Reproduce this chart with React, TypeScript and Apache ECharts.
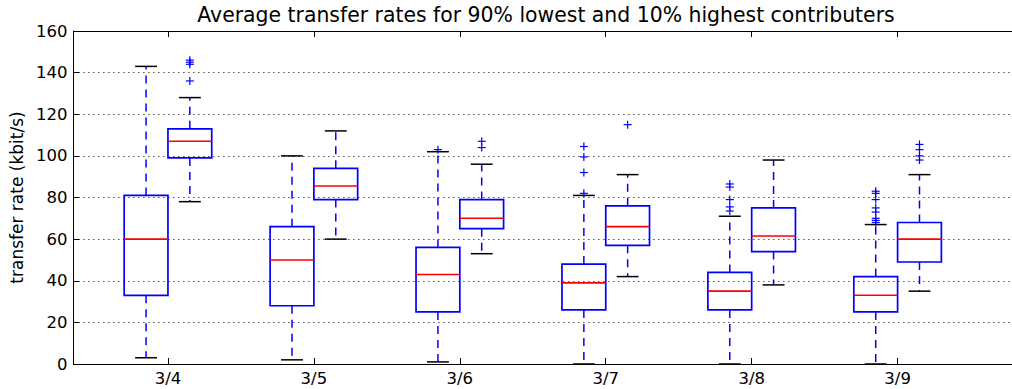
import React, { useEffect, useRef } from "react";
import * as echarts from "echarts";

const categories = ["3/4", "3/5", "3/6", "3/7", "3/8", "3/9"];
const yTicks = [0, 20, 40, 60, 80, 100, 120, 140, 160];
// [lower cap, q1, median, q3, upper cap]
const low90 = [
  [3, 33, 60, 81, 143],
  [2, 28, 50, 66, 100],
  [1, 25, 43, 56, 102],
  [0, 26, 39, 48, 81],
  [0, 26, 35, 44, 71],
  [0, 25, 33, 42, 67],
];
const high10 = [
  [78, 99, 107, 113, 128],
  [60, 79, 85.5, 94, 112],
  [53, 65, 70, 79, 96],
  [42, 57, 66, 76, 91],
  [38, 54, 61.5, 75, 98],
  [35, 49, 60, 68, 91],
];
const low90Outliers = [
  [],
  [],
  [103],
  [82, 92, 99.5, 104.5],
  [73.5, 75.5, 79, 85, 86.5],
  [68, 69, 70, 73, 75, 79, 82, 83],
];
const high10Outliers = [
  [136, 144, 145, 146],
  [],
  [104, 107],
  [115],
  [],
  [98, 100, 103, 105.5],
];

const OFFSET = 0.15;
const BOX_W = 0.3;
const FONT = "DejaVu Sans";

export default function App() {
  const ref = useRef<HTMLDivElement>(null);
  useEffect(() => {
    if (!ref.current) return;
    const chart = echarts.init(ref.current, null, { renderer: "svg" });

    const boxData: number[][] = [];
    categories.forEach((_, i) => {
      boxData.push([i - OFFSET, ...low90[i]]);
      boxData.push([i + OFFSET, ...high10[i]]);
    });
    const outData: number[][] = [];
    categories.forEach((_, i) => {
      low90Outliers[i].forEach((v) => outData.push([i - OFFSET, v]));
      high10Outliers[i].forEach((v) => outData.push([i + OFFSET, v]));
    });
    const tickIdx = categories.map((_, i) => i);

    const option: any = {
      animation: false,
      graphic: [
        {
          type: "text",
          x: 546,
          y: 15,
          style: {
            text: "Average transfer rates for 90% lowest and 10% highest contributers",
            fontFamily: FONT,
            fontSize: 20.4,
            fill: "#000",
            textAlign: "center",
            textVerticalAlign: "middle",
          },
        },
      ],
      grid: { left: 69, top: 31, bottom: 25, right: 0, containLabel: false },
      xAxis: [
        {
          type: "value",
          min: -0.648,
          max: 5.873,
          axisLine: { show: true, onZero: false, lineStyle: { color: "#000", width: 1 } },
          axisTick: {
            show: true,
            inside: true,
            length: 6,
            customValues: tickIdx,
            lineStyle: { color: "#000" },
          },
          axisLabel: {
            show: true,
            customValues: tickIdx,
            formatter: (v: number) => categories[Math.round(v)] ?? "",
            fontFamily: FONT,
            fontSize: 16.5,
            color: "#000",
            margin: 6,
          },
          splitLine: { show: false },
        },
        {
          type: "value",
          position: "top",
          min: -0.648,
          max: 5.873,
          axisLine: { show: true, onZero: false, lineStyle: { color: "#000", width: 1 } },
          axisTick: {
            show: true,
            inside: true,
            length: 6,
            customValues: tickIdx,
            lineStyle: { color: "#000" },
          },
          axisLabel: { show: false },
          splitLine: { show: false },
        },
      ],
      yAxis: {
        type: "value",
        min: 0,
        max: 160,
        interval: 20,
        name: "transfer rate (kbit/s)",
        nameLocation: "middle",
        nameGap: 43,
        nameTextStyle: { fontFamily: FONT, fontSize: 17, color: "#000" },
        axisLine: { show: true, onZero: false, lineStyle: { color: "#000", width: 1 } },
        axisTick: { show: true, inside: true, length: 6, lineStyle: { color: "#000" } },
        axisLabel: {
          fontFamily: FONT,
          fontSize: 16.5,
          color: "#000",
          margin: 6,
          formatter: (v: number) => (yTicks.includes(v) ? String(v) : ""),
        },
        splitLine: { show: true, lineStyle: { color: "#000", type: [1, 4], width: 1 } },
      },
      series: [
        {
          type: "custom",
          xAxisIndex: 0,
          yAxisIndex: 0,
          data: boxData,
          clip: false,
          renderItem: (params: any, api: any) => {
            const x = api.value(0);
            const lo = api.value(1);
            const q1 = api.value(2);
            const med = api.value(3);
            const q3 = api.value(4);
            const hi = api.value(5);
            const half = api.size([BOX_W, 0])[0] / 2;
            const capHalf = half / 2;
            const pLo = api.coord([x, lo]);
            const pQ1 = api.coord([x, q1]);
            const pMed = api.coord([x, med]);
            const pQ3 = api.coord([x, q3]);
            const pHi = api.coord([x, hi]);
            const cx = pQ1[0];
            const blue = "#0000ff";
            return {
              type: "group",
              children: [
                {
                  type: "line",
                  shape: { x1: cx, y1: pQ3[1], x2: cx, y2: pHi[1] },
                  style: { stroke: blue, lineWidth: 1.5, lineDash: [8, 6] },
                },
                {
                  type: "line",
                  shape: { x1: cx, y1: pQ1[1], x2: cx, y2: pLo[1] },
                  style: { stroke: blue, lineWidth: 1.5, lineDash: [8, 6] },
                },
                {
                  type: "line",
                  shape: { x1: cx - capHalf, y1: pHi[1], x2: cx + capHalf, y2: pHi[1] },
                  style: { stroke: "#000", lineWidth: 1.5 },
                },
                {
                  type: "line",
                  shape: { x1: cx - capHalf, y1: pLo[1], x2: cx + capHalf, y2: pLo[1] },
                  style: { stroke: "#000", lineWidth: 1.5 },
                },
                {
                  type: "rect",
                  shape: { x: cx - half, y: pQ3[1], width: half * 2, height: pQ1[1] - pQ3[1] },
                  style: { fill: "none", stroke: blue, lineWidth: 1.7 },
                },
                {
                  type: "line",
                  shape: { x1: cx - half, y1: pMed[1], x2: cx + half, y2: pMed[1] },
                  style: { stroke: "#ff0000", lineWidth: 1.6 },
                },
              ],
            };
          },
        },
        {
          type: "custom",
          xAxisIndex: 0,
          yAxisIndex: 0,
          data: outData,
          clip: false,
          renderItem: (params: any, api: any) => {
            const p = api.coord([api.value(0), api.value(1)]);
            const s = 4;
            return {
              type: "group",
              children: [
                {
                  type: "line",
                  shape: { x1: p[0] - s, y1: p[1], x2: p[0] + s, y2: p[1] },
                  style: { stroke: "#0000ff", lineWidth: 1.2 },
                },
                {
                  type: "line",
                  shape: { x1: p[0], y1: p[1] - s, x2: p[0], y2: p[1] + s },
                  style: { stroke: "#0000ff", lineWidth: 1.2 },
                },
              ],
            };
          },
        },
      ],
    };
    chart.setOption(option);
    return () => chart.dispose();
  }, []);
  return (
    <div
      style={{
        position: "absolute",
        left: 0,
        top: 0,
        width: 1012,
        height: 389,
        overflow: "hidden",
        background: "#fff",
      }}
    >
      <div ref={ref} style={{ width: 1025, height: 389 }} />
    </div>
  );
}
